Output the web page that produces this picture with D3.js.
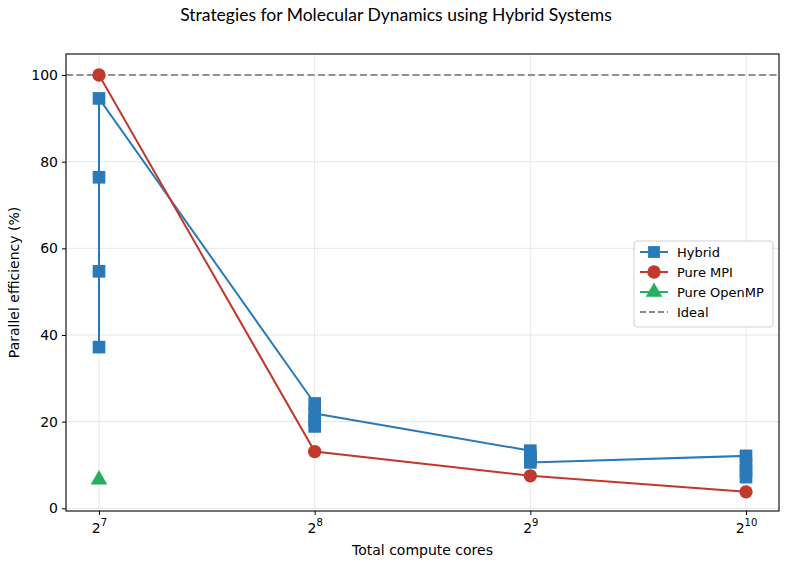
<!DOCTYPE html>
<html>
<head>
<meta charset="utf-8">
<script src="https://cdn.jsdelivr.net/npm/d3@7"></script>
<style>
  body { margin: 0; background: #fff; }
  svg text { font-family: 'DejaVu Sans', 'Bitstream Vera Sans', Verdana, sans-serif !important; }
  svg text.title { font-family: Lato, sans-serif !important; }
</style>
</head>
<body>
<svg id="chart" width="786" height="565"></svg>
<script>
// data
let hybridCores = [128, 128, 128, 128, 256, 256, 256, 256, 512, 512, 512, 512, 1024, 1024, 1024, 1024]
let hybridEff = [37.2, 54.7, 76.4, 94.6, 24.2, 20.3, 18.9, 21.9, 13.3, 12.0, 11.2, 10.6, 12.1, 10.2, 8.6, 7.2]
let mpiCores = [128, 256, 512, 1024]
let mpiEff = [100, 13.1, 7.5, 3.8]
let openmpCores = [128]
let openmpEff = [6.6]
let idealEff = 100
let xTicks = [128, 256, 512, 1024]
let yTicks = [0, 20, 40, 60, 80, 100]
let legendLabels = ["Hybrid", "Pure MPI", "Pure OpenMP", "Ideal"]

let colors = { hybrid: "#2a7ab9", mpi: "#c0392b", openmp: "#27ae60", ideal: "#888888" }

let width = 786, height = 565
let margin = { top: 54, right: 7, bottom: 54, left: 66 }
let svg = d3.select("#chart")

let x = d3.scaleLog().base(2)
  .domain([Math.pow(2, 6.847), Math.pow(2, 10.153)])
  .range([margin.left, width - margin.right])
let y = d3.scaleLinear()
  .domain([-0.62, 104.85])
  .range([height - margin.bottom, margin.top])

// grid
let grid = svg.append("g")
grid.selectAll("line.gx").data(xTicks).enter().append("line")
  .attr("class", "gx")
  .attr("x1", d => x(d)).attr("x2", d => x(d))
  .attr("y1", margin.top).attr("y2", height - margin.bottom)
  .attr("stroke", "#e6e6e6").attr("stroke-width", 1)
grid.selectAll("line.gy").data(yTicks).enter().append("line")
  .attr("class", "gy")
  .attr("y1", d => y(d)).attr("y2", d => y(d))
  .attr("x1", margin.left).attr("x2", width - margin.right)
  .attr("stroke", "#e6e6e6").attr("stroke-width", 1)

// ideal line
svg.append("line")
  .attr("x1", margin.left).attr("x2", width - margin.right)
  .attr("y1", y(idealEff)).attr("y2", y(idealEff))
  .attr("stroke", colors.ideal).attr("stroke-width", 2)
  .attr("stroke-dasharray", "7,3.5").attr("opacity", 0.9)

let line = d3.line().x(d => x(d[0])).y(d => y(d[1]))

function drawSeries(cores, eff, color, shape) {
  let pts = cores.map((c, i) => [c, eff[i]])
  if (pts.length > 1) {
    svg.append("path").datum(pts)
      .attr("d", line)
      .attr("fill", "none").attr("stroke", color).attr("stroke-width", 2)
  }
  svg.append("g").selectAll("path").data(pts).enter().append("path")
    .attr("transform", d => `translate(${x(d[0])},${y(d[1])})`)
    .attr("d", d3.symbol().type(shape).size(shape === d3.symbolTriangle ? 120 : shape === d3.symbolSquare ? 160 : 140))
    .attr("fill", color)
}

drawSeries(hybridCores, hybridEff, colors.hybrid, d3.symbolSquare)
drawSeries(mpiCores, mpiEff, colors.mpi, d3.symbolCircle)
drawSeries(openmpCores, openmpEff, colors.openmp, d3.symbolTriangle)

// frame
svg.append("rect")
  .attr("x", margin.left).attr("y", margin.top)
  .attr("width", width - margin.left - margin.right)
  .attr("height", height - margin.top - margin.bottom)
  .attr("fill", "none").attr("stroke", "#000").attr("stroke-width", 1.1)

// axes
let xAxis = svg.append("g")
  .attr("transform", `translate(0,${height - margin.bottom})`)
  .call(d3.axisBottom(x).tickValues(xTicks).tickSize(4).tickFormat(""))
xAxis.select(".domain").remove()
xAxis.selectAll(".tick").each(function (d) {
  let t = d3.select(this).append("text")
    .attr("y", 22).attr("fill", "#000").attr("font-size", 14)
    .attr("text-anchor", "middle")
  t.append("tspan").text("2")
  t.append("tspan").attr("dy", -7).attr("font-size", 10).text(Math.round(Math.log2(d)))
})

let yAxis = svg.append("g")
  .attr("transform", `translate(${margin.left},0)`)
  .call(d3.axisLeft(y).tickValues(yTicks).tickSize(4).tickPadding(4))
yAxis.select(".domain").remove()
yAxis.selectAll("text").attr("font-size", 14).attr("fill", "#000")

// labels
svg.append("text")
  .attr("x", (margin.left + width - margin.right) / 2).attr("y", 555)
  .attr("text-anchor", "middle").attr("font-size", 14)
  .text("Total compute cores")
svg.append("text")
  .attr("transform", `translate(19,${(margin.top + height - margin.bottom) / 2}) rotate(-90)`)
  .attr("text-anchor", "middle").attr("font-size", 14)
  .text("Parallel efficiency (%)")
svg.append("text")
  .attr("class", "title")
  .attr("x", 396).attr("y", 21)
  .attr("text-anchor", "middle").attr("font-size", 17.5)
  .text("Strategies for Molecular Dynamics using Hybrid Systems")

// legend
let lg = svg.append("g").attr("transform", "translate(634,241)")
lg.append("rect").attr("width", 139).attr("height", 86).attr("rx", 3)
  .attr("fill", "#fff").attr("fill-opacity", 0.85)
  .attr("stroke", "#d0d0d0")
let legendColors = [colors.hybrid, colors.mpi, colors.openmp, colors.ideal]
let legendShapes = [d3.symbolSquare, d3.symbolCircle, d3.symbolTriangle, null]
legendLabels.forEach((lab, i) => {
  let yy = 11 + i * 20
  let row = lg.append("g").attr("transform", `translate(0,${yy})`)
  row.append("line").attr("x1", 6).attr("x2", 34).attr("y1", 0).attr("y2", 0)
    .attr("stroke", legendColors[i]).attr("stroke-width", 2)
    .attr("stroke-dasharray", legendShapes[i] ? null : "6,3")
  if (legendShapes[i]) {
    row.append("path").attr("transform", "translate(20,0)")
      .attr("d", d3.symbol().type(legendShapes[i]).size(legendShapes[i] === d3.symbolTriangle ? 120 : 140))
      .attr("fill", legendColors[i])
  }
  row.append("text").attr("x", 43).attr("y", 4.5).attr("font-size", 13).text(lab)
})
</script>
</body>
</html>
